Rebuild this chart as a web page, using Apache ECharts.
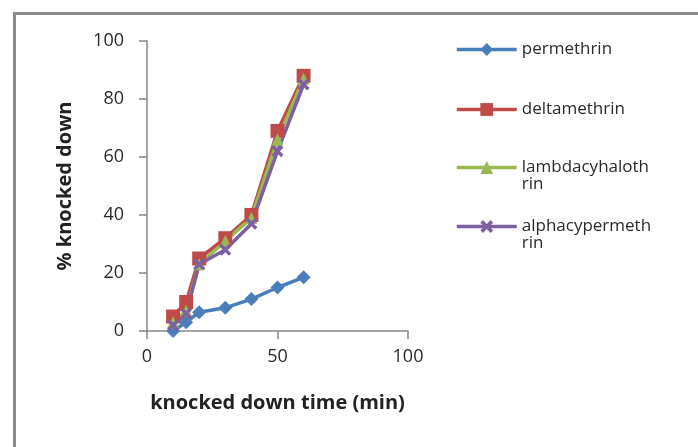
<!DOCTYPE html>
<html>
<head>
<meta charset="utf-8">
<script src="https://cdn.jsdelivr.net/npm/echarts@6/dist/echarts.min.js"></script>
<style>
  html, body { margin: 0; padding: 0; background: #fff; }
  #chart { width: 698px; height: 447px; }
</style>
</head>
<body>
<div id="chart"></div>
<script>
// knocked down time (min)
var times = [10, 15, 20, 30, 40, 50, 60]
var permethrin = [0, 3, 6.5, 8, 11, 15, 18.5]
var deltamethrin = [5, 10, 25, 32, 40, 69, 88]
var lambdacyhalothrin = [3, 7, 23, 31, 39, 66, 87]
var alphacypermethrin = [2, 6, 23, 28, 37, 62, 85]
var seriesNames = ['permethrin', 'deltamethrin', 'lambdacyhalothrin', 'alphacypermethrin']
// legend text as wrapped in the original (leading blank line keeps the first line level with the icon)
var legendText = {
  permethrin: 'permethrin',
  deltamethrin: 'deltamethrin',
  lambdacyhalothrin: ' \nlambdacyhaloth\nrin',
  alphacypermethrin: ' \nalphacypermeth\nrin'
}

var colors = ['#4a7ebb', '#be4b48', '#98b954', '#7d60a0']
var xSymbol = 'path://M0,2L2,0L5,3L8,0L10,2L7,5L10,8L8,10L5,7L2,10L0,8L3,5Z'
var font = 'Open Sans'

function pairs(ys) {
  return times.map(function(t, i) { return [t, ys[i]] })
}

function makeSeries(name, ys, color, symbol, size) {
  return {
    name: name,
    type: 'line',
    data: pairs(ys),
    symbol: symbol,
    symbolSize: size,
    showAllSymbol: true,
    color: color,
    lineStyle: { width: 3.5, color: color },
    itemStyle: { color: color, borderWidth: 0 },
    emphasis: { disabled: true },
    animation: false
  }
}

// one legend per entry so each row sits where it does in the original
function makeLegend(name, cy, twoLines) {
  return {
    data: [name],
    left: 455,
    top: twoLines ? cy - 26 : cy - 9,
    padding: 0,
    itemWidth: 60,
    itemHeight: 16,
    selectedMode: false,
    lineStyle: { width: 3.5 },
    formatter: function(n) { return legendText[n] },
    textStyle: {
      fontFamily: font,
      fontSize: 17,
      color: '#2a2a2a',
      lineHeight: 17
    }
  }
}

var chart = echarts.init(document.getElementById('chart'))
chart.setOption({
  backgroundColor: '#fff',
  animation: false,
  graphic: [{
    type: 'rect',
    silent: true,
    shape: { x: 14.5, y: 13.5, width: 800, height: 800 },
    style: { fill: 'none', stroke: '#8a8a8a', lineWidth: 3 }
  }],
  grid: { left: 147, top: 41, right: 290, bottom: 116 },
  legend: [
    makeLegend('permethrin', 50, false),
    makeLegend('deltamethrin', 110, false),
    makeLegend('lambdacyhalothrin', 168, true),
    makeLegend('alphacypermethrin', 227, true)
  ],
  xAxis: {
    type: 'value',
    min: 0,
    max: 100,
    interval: 50,
    name: 'knocked down time (min)',
    nameLocation: 'middle',
    nameGap: 62,
    nameTextStyle: { fontFamily: font, fontSize: 20, fontWeight: 'bold', color: '#222' },
    axisLine: { lineStyle: { color: '#868686', width: 1.5 } },
    axisTick: { length: 8, lineStyle: { color: '#868686', width: 1.5 } },
    axisLabel: { fontFamily: font, fontSize: 18, color: '#2a2a2a', margin: 17 },
    splitLine: { show: false }
  },
  yAxis: {
    type: 'value',
    min: 0,
    max: 100,
    interval: 20,
    name: '% knocked down',
    nameLocation: 'middle',
    nameGap: 72,
    nameTextStyle: { fontFamily: font, fontSize: 20, fontWeight: 'bold', color: '#222' },
    axisLine: { show: true, lineStyle: { color: '#868686', width: 1.5 } },
    axisTick: { show: true, length: 8, lineStyle: { color: '#868686', width: 1.5 } },
    axisLabel: { fontFamily: font, fontSize: 18, color: '#2a2a2a', margin: 23 },
    splitLine: { show: false }
  },
  series: [
    makeSeries(seriesNames[0], permethrin, colors[0], 'diamond', 14),
    makeSeries(seriesNames[1], deltamethrin, colors[1], 'rect', 14),
    makeSeries(seriesNames[2], lambdacyhalothrin, colors[2], 'triangle', 12),
    makeSeries(seriesNames[3], alphacypermethrin, colors[3], xSymbol, 12)
  ]
})
</script>
</body>
</html>
